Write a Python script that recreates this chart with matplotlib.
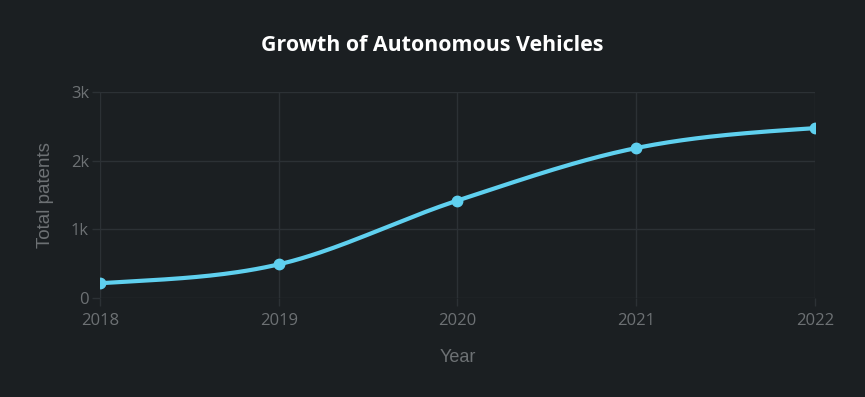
import matplotlib.pyplot as plt
import numpy as np

years = [2018, 2019, 2020, 2021, 2022]
patents = [215, 490, 1420, 2185, 2475]
y_ticks = [0, 1000, 2000, 3000]
y_tick_labels = ['0', '1k', '2k', '3k']

BG = '#1b1f22'
GRID = '#2c3135'
TXT = '#6d7174'
LINE = '#5fd0ef'


def smooth(xs, ys, n=40):
    # catmull-rom style hermite curve through the points
    xs = np.asarray(xs, float)
    ys = np.asarray(ys, float)
    m = np.zeros_like(ys)
    m[1:-1] = (ys[2:] - ys[:-2]) / (xs[2:] - xs[:-2])
    m[0] = (ys[1] - ys[0]) / (xs[1] - xs[0]) * 0.6
    m[-1] = (ys[-1] - ys[-2]) / (xs[-1] - xs[-2]) * 0.6
    out_x, out_y = [], []
    for i in range(len(xs) - 1):
        h = xs[i+1] - xs[i]
        t = np.linspace(0, 1, n)
        h00 = 2*t**3 - 3*t**2 + 1
        h10 = t**3 - 2*t**2 + t
        h01 = -2*t**3 + 3*t**2
        h11 = t**3 - t**2
        out_x.append(xs[i] + t*h)
        out_y.append(h00*ys[i] + h10*h*m[i] + h01*ys[i+1] + h11*h*m[i+1])
    return np.concatenate(out_x), np.concatenate(out_y)


fig = plt.figure(figsize=(8.65, 3.97), dpi=100, facecolor=BG)
ax = fig.add_axes([0.1156, 0.2494, 0.8266, 0.5186])
ax.set_facecolor(BG)

sx, sy = smooth(years, patents)
ax.plot(sx, sy, color=LINE, linewidth=3, solid_capstyle='round', zorder=3)
ax.plot(years, patents, 'o', color=LINE, markersize=7.5, zorder=4)

ax.set_xlim(2018, 2022)
ax.set_ylim(0, 3000)
ax.set_xticks(years)
ax.set_yticks(y_ticks)
ax.set_yticklabels(y_tick_labels)
ax.grid(True, color=GRID, linewidth=1)
ax.set_axisbelow(True)
for s in ax.spines.values():
    s.set_visible(False)
ax.tick_params(axis='both', colors=GRID, labelcolor=TXT, labelsize=12, length=6, width=1)
ax.tick_params(axis='x', pad=5)
ax.tick_params(axis='y', pad=2)
for lab in ax.get_xticklabels() + ax.get_yticklabels():
    lab.set_family('Open Sans')

ax.set_xlabel('Year', color=TXT, fontsize=13, family='Liberation Sans', labelpad=14)
ax.set_ylabel('Total patents', color=TXT, fontsize=13.5, family='Liberation Sans', labelpad=12)
fig.text(0.5, 0.885, 'Growth of Autonomous Vehicles', color='white', fontsize=15.4,
         fontweight='bold', family='Open Sans', ha='center', va='center')

fig.savefig('out.png', facecolor=BG)
